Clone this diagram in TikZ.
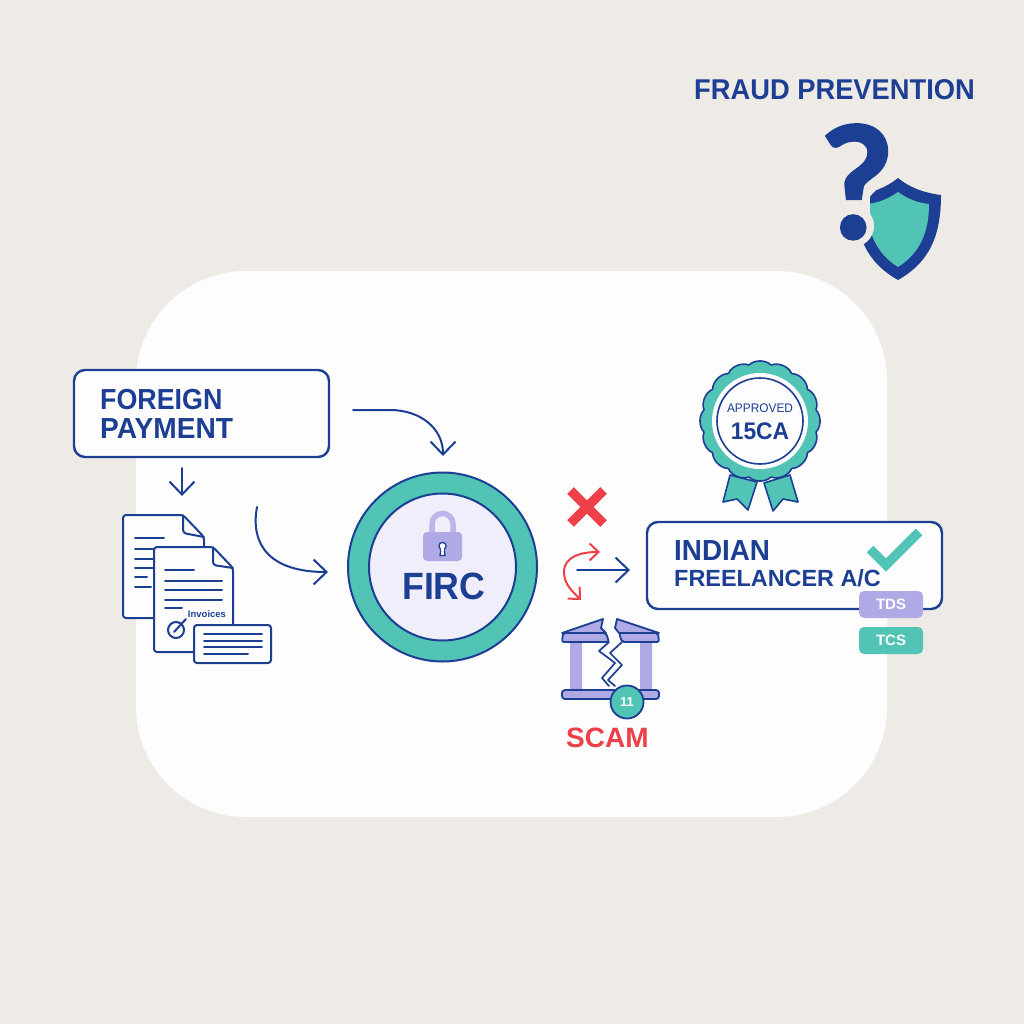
\documentclass[tikz,border=0pt]{standalone}
\usepackage{fontspec}
\setmainfont{Liberation Sans}
\newfontfamily\qfont[FakeBold=2]{Lato}
\usetikzlibrary{arrows.meta}
\definecolor{bgc}{HTML}{EEEBE6}
\definecolor{panelc}{HTML}{FDFDFE}
\definecolor{navy}{HTML}{1C3F94}
\definecolor{teal2}{HTML}{52C4B6}
\definecolor{purp}{HTML}{AFA9E6}
\definecolor{lilac}{HTML}{EFEEFA}
\definecolor{redc}{HTML}{EE4048}
\newcommand\szb[1]{\fontsize{#1}{#1}\selectfont\bfseries}
\tikzset{
  x=1pt,y=-1pt,
  txt/.style={inner sep=0pt,anchor=base west,text=navy},
  sx/.style={xscale=#1,transform shape},
  box/.style={draw=navy,line width=2.4pt,fill=panelc,rounded corners=11pt,inner sep=0pt,minimum width=#1},
  flow/.style={draw=navy,line width=2pt,line cap=round,-{Straight Barb[length=13pt,width=25pt,line width=2pt]}},
  redflow/.style={draw=redc,line width=2pt,line cap=round,{Straight Barb[length=9pt,width=17pt,line width=2pt]}-{Straight Barb[length=9pt,width=17pt,line width=2pt]}},
  ink/.style={draw=navy,line width=2pt,line cap=round,line join=round},
  sheet/.style={ink,fill=panelc,rounded corners=3pt},
  pill/.style={fill=#1,rounded corners=5pt,minimum width=64pt,minimum height=27pt,inner sep=0pt,text=white},
}
\begin{document}
\begin{tikzpicture}
\useasboundingbox (0,0) rectangle (1024,1024);
\fill[bgc] (0,0) rectangle (1024,1024);
\fill[panelc,rounded corners=110pt] (136,271) rectangle (887,817);

% title and shield
\node[txt,sx=.955] (title) at (694,100) {\szb{28.6}FRAUD PREVENTION};
\fill[navy] (898,178) .. controls (910,188) and (925,193) .. (941,195)
  .. controls (941,235) and (930,262) .. (898,280)
  .. controls (866,262) and (855,235) .. (855,195)
  .. controls (871,193) and (886,188) .. (898,178) -- cycle;
\fill[teal2] (898,192) .. controls (908,199) and (918,203) .. (929,204)
  .. controls (929,232) and (920,253) .. (898,267)
  .. controls (876,253) and (867,232) .. (867,204)
  .. controls (878,203) and (888,199) .. (898,192) -- cycle;
\fill[bgc] (850,190) rectangle (870,216);
\fill[bgc] (853,226) circle (21);
\draw[bgc,line width=30pt] (879,159) .. controls (879,178) and (853,178) .. (853,205);
\node[inner sep=0pt,text=navy,anchor=base,sx=1] (qmark) at (857,238) {\qfont\szb{155}?};

% foreign payment
\node[box=255pt,minimum height=87pt] (fp) at (201.5,413.5) {};
\node[txt,sx=.925] (fpa) at (100,409) {\szb{29}FOREIGN};
\node[txt,sx=.97] (fpb) at (100,438) {\szb{29}PAYMENT};

% documents
\coordinate (d1) at (182,468);
\coordinate (d2) at (182,496);
\draw[flow] (d1) -- (d2);
\draw[sheet] (123,515) -- (183,515) -- (204,537) -- (204,618) -- (123,618) -- cycle;
\draw[ink,rounded corners=3pt] (183,515) -- (183,533) -- (204,537);
\foreach \y/\e in {538/164,549/160,559/160,568/160,577/147,587/151}
  \draw[ink] (135,\y) -- (\e,\y);
\draw[sheet] (154,547) -- (213,547) -- (233,568) -- (233,652) -- (154,652) -- cycle;
\draw[ink,rounded corners=3pt] (213,547) -- (213,565) -- (233,568);
\foreach \y/\e in {570/194,581/222,590/222,599.5/222,608/182}
  \draw[ink] (165,\y) -- (\e,\y);
\node[txt,anchor=center] (inv) at (207,614) {\szb{9.5}Invoices};
\draw[ink] (176,630) circle (8);
\draw[ink] (174,632) -- (186,619);
\draw[sheet] (194,625) rectangle (271,663);
\foreach \y/\e in {634/262,641/262,647/262,654/248}
  \draw[ink] (204,\y) -- (\e,\y);

% firc
\node[circle,draw=navy,line width=2pt,fill=teal2,minimum size=189pt,inner sep=0pt] (firc) at (442.5,567) {};
\node[circle,draw=navy,line width=2pt,fill=lilac,minimum size=147pt,inner sep=0pt] (fircin) at (442.5,567) {};
\draw[color=purp!85!white,line width=5.5pt] (432,535) -- (432,524) arc[start angle=180,end angle=360,radius=10.5] -- (453,535);
\fill[purp,rounded corners=4pt] (423,532) rectangle (462,561);
\draw[navy,fill=white,line width=1.3pt,line join=round] (441,549) -- (440,555.5) -- (445,555.5) -- (444,549) -- cycle;
\filldraw[navy,fill=white,line width=1.3pt] (442.5,546) circle (3.6);
\fill[white] (441,548) rectangle (444,551);
\node[txt,sx=.94] (firct) at (402,599) {\szb{38}FIRC};

\coordinate (a1) at (353,410);
\coordinate (a2) at (443,456);
\draw[flow] (a1) -- (390,410) .. controls (420,410) and (443,428) .. (a2);
\coordinate (b1) at (257,507);
\coordinate (b2) at (328,572);
\draw[flow] (b1) .. controls (250,545) and (270,572) .. (b2);

% scam branch
\draw[redc,line width=9.5pt] (570.5,490.5) -- (603.5,523.5) (603.5,490.5) -- (570.5,523.5);
\coordinate (c1) at (600,552);
\coordinate (c2) at (581,600);
\draw[redflow] (c1) .. controls (582,552) and (564,556) .. (564,572) .. controls (564,584) and (572,591) .. (c2);
\coordinate (e1) at (577,570);
\coordinate (e2) at (630,570);
\draw[flow] (e1) -- (e2);

% bank
\fill[purp] (570,642) rectangle (582,690) (640,642) rectangle (652,690);
\draw[navy,line width=1.8pt,fill=purp,line join=round] (603,619) -- (601,628) -- (606,633) -- (562,633) -- cycle;
\draw[navy,line width=1.8pt,fill=purp,line join=round] (617,619) -- (615,628) -- (619,633) -- (659,633) -- cycle;
\draw[navy,line width=1.8pt,fill=purp,line join=round,rounded corners=2pt] (606,633) -- (563,633) -- (562,642) -- (609,642) -- cycle;
\draw[navy,line width=1.8pt,fill=purp,line join=round,rounded corners=2pt] (619,633) -- (658,633) -- (659,642) -- (622,642) -- cycle;
\draw[navy,line width=1.8pt,fill=purp,rounded corners=3pt] (562,690) rectangle (659,699);
\draw[ink,line width=1.7pt] (609,642) -- (599,651) -- (615,663) -- (602,678) -- (609,686);
\draw[ink,line width=1.7pt] (622,642) -- (610,653) -- (622,665) -- (608,680) -- (615,686);
\node[circle,draw=navy,line width=1.8pt,fill=teal2,minimum size=33pt,inner sep=0pt,text=white] (bankb) at (627,702) {\szb{13}11};
\node[txt,text=redc] (scam) at (566,747) {\szb{28}SCAM};

% ribbon
\draw[navy,line width=1.6pt,fill=teal2,line join=round] (730,475) -- (757,482) -- (748,510) -- (737,499) -- (723,502) -- cycle;
\draw[navy,line width=1.6pt,fill=teal2,line join=round] (764,483) -- (790,475) -- (798,502) -- (783,499) -- (773,511) -- cycle;
\draw[navy,line width=1.6pt,fill=teal2,line join=round] plot[samples=241,domain=0:360] ({760+(56+4*sqrt(abs(cos(8*\x))))*cos(\x)},{421+(56+4*sqrt(abs(cos(8*\x))))*sin(\x)}) -- cycle;
\node[circle,fill=panelc,minimum size=96pt,inner sep=0pt] (sealw) at (760,421) {};
\node[circle,draw=navy,line width=1.6pt,fill=panelc,minimum size=86pt,inner sep=0pt] (seal) at (760,421) {};
\node[txt,anchor=base,sx=.95] (appr) at (760,412) {\fontsize{12.5}{12.5}\selectfont APPROVED};
\node[txt,anchor=base,sx=.95] (ca) at (760,439) {\szb{24}15CA};

% account
\node[box=295pt,minimum height=87pt] (acct) at (794.5,565.5) {};
\node[txt,sx=.96] (ia) at (674,560) {\szb{29}INDIAN};
\node[txt] (ib) at (674,586) {\szb{23.4}FREELANCER A/C};
\draw[teal2,line width=9.5pt,line join=miter] (870,549) -- (886,565) -- (919,532);
\node[pill=purp] (tds) at (891,604.5) {\fontsize{15}{15}\selectfont\bfseries TDS};
\node[pill=teal2] (tcs) at (891,640.5) {\fontsize{15}{15}\selectfont\bfseries TCS};
\end{tikzpicture}
\end{document}
